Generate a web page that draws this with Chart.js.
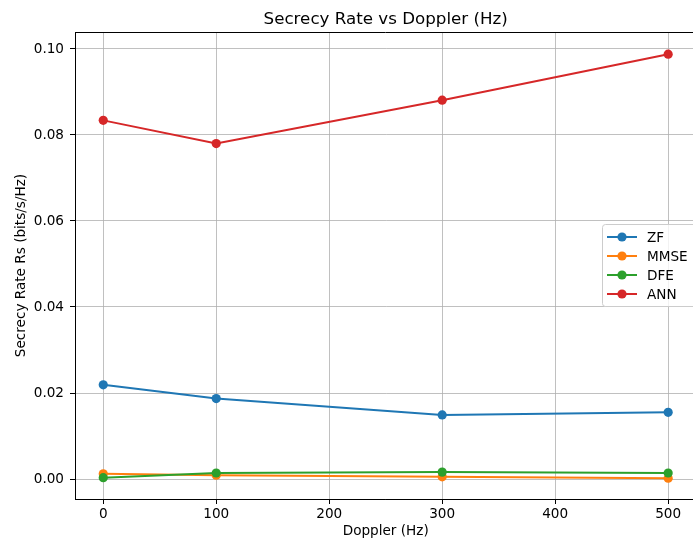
<!DOCTYPE html>
<html>
<head>
<meta charset="utf-8">
<script src="https://cdn.jsdelivr.net/npm/chart.js@4/dist/chart.umd.min.js"></script>
<style>
  html, body { margin: 0; padding: 0; background: #fff; overflow: hidden; }
  #wrap { width: 701px; height: 541px; }
</style>
</head>
<body>
<div id="wrap"><canvas id="c" width="701" height="541"></canvas></div>
<script>
// Doppler shifts (Hz) and secrecy rate per equalizer
const dopplerHz = [0, 100, 300, 500];
const zfRate   = [0.0219, 0.0187, 0.0149, 0.0155];
const mmseRate = [0.0012, 0.0009, 0.0005, 0.0002];
const dfeRate  = [0.0003, 0.0014, 0.0016, 0.0014];
const annRate  = [0.0834, 0.0780, 0.0881, 0.0988];

const seriesNames = ['ZF', 'MMSE', 'DFE', 'ANN'];
const seriesColors = ['#1f77b4', '#ff7f0e', '#2ca02c', '#d62728'];

const xTicks = [0, 100, 200, 300, 400, 500];
const yTicks = [0.00, 0.02, 0.04, 0.06, 0.08, 0.10];

const FONT = 'DejaVu Sans';
const seriesValues = [zfRate, mmseRate, dfeRate, annRate];

const datasets = seriesNames.map((name, i) => ({
  label: name,
  data: dopplerHz.map((x, j) => ({ x: x, y: seriesValues[i][j] })),
  borderColor: seriesColors[i],
  backgroundColor: seriesColors[i],
  pointBackgroundColor: seriesColors[i],
  pointBorderWidth: 0,
  pointRadius: 4.6,
  pointHoverRadius: 4.6,
  borderWidth: 2,
  tension: 0,
  order: seriesNames.length - i   // later series drawn on top
}));

// Title, top/right frame and legend box
const decorations = {
  id: 'decorations',
  afterDraw(chart) {
    const ctx = chart.ctx;
    const a = chart.chartArea;
    ctx.save();
    // frame
    ctx.strokeStyle = '#000';
    ctx.lineWidth = 1;
    ctx.beginPath();
    ctx.moveTo(a.left, a.top + 0.5);
    ctx.lineTo(a.right - 0.5, a.top + 0.5);
    ctx.lineTo(a.right - 0.5, a.bottom);
    ctx.stroke();

    // title
    ctx.fillStyle = '#000';
    ctx.font = '16.7px "' + FONT + '"';
    ctx.textAlign = 'center';
    ctx.textBaseline = 'alphabetic';
    ctx.fillText('Secrecy Rate vs Doppler (Hz)', (a.left + a.right) / 2, 24);

    // legend
    const bx = 602, by = 224, bw = 100, bh = 82;
    ctx.fillStyle = 'rgba(255,255,255,0.8)';
    ctx.strokeStyle = '#cccccc';
    ctx.lineWidth = 1;
    ctx.beginPath();
    ctx.roundRect(bx + 0.5, by + 0.5, bw, bh, 3);
    ctx.fill();
    ctx.stroke();
    ctx.font = '13.6px "' + FONT + '"';
    ctx.textAlign = 'left';
    ctx.textBaseline = 'middle';
    seriesNames.forEach((name, i) => {
      const yy = 237 + i * 19;
      ctx.strokeStyle = seriesColors[i];
      ctx.lineWidth = 2;
      ctx.beginPath();
      ctx.moveTo(607, yy);
      ctx.lineTo(637, yy);
      ctx.stroke();
      ctx.fillStyle = seriesColors[i];
      ctx.beginPath();
      ctx.arc(622, yy, 4.6, 0, Math.PI * 2);
      ctx.fill();
      ctx.fillStyle = '#000';
      ctx.fillText(name, 647, yy + 1);
    });
    ctx.restore();
  }
};

const gridStyle = {
  color: '#b0b0b0',
  lineWidth: 0.8,
  tickLength: 5,
  tickColor: '#000',
  tickWidth: 1
};

new Chart(document.getElementById('c'), {
  type: 'line',
  data: { datasets: datasets },
  plugins: [decorations],
  options: {
    responsive: false,
    animation: false,
    devicePixelRatio: 1,
    layout: { padding: { top: 32, left: 0, right: 0, bottom: 0 } },
    plugins: {
      legend: { display: false },
      title: { display: false },
      tooltip: { enabled: false }
    },
    scales: {
      x: {
        type: 'linear',
        min: -25,
        max: 525,
        afterBuildTicks(s) { s.ticks = xTicks.map(v => ({ value: v })); },
        afterFit(s) { s.height = 42; },
        ticks: {
          color: '#000',
          font: { family: FONT, size: 13.6 },
          padding: 2,
          maxRotation: 0,
          autoSkip: false,
          callback: v => String(v)
        },
        grid: gridStyle,
        border: { color: '#000', width: 1 },
        title: {
          display: true,
          text: 'Doppler (Hz)',
          color: '#000',
          font: { family: FONT, size: 13.6 },
          padding: { top: 13, bottom: 1 }
        }
      },
      y: {
        type: 'linear',
        min: -0.00465,
        max: 0.10395,
        afterBuildTicks(s) { s.ticks = yTicks.map(v => ({ value: v })); },
        afterFit(s) { s.width = 75; },
        ticks: {
          color: '#000',
          font: { family: FONT, size: 13.6 },
          padding: 6,
          autoSkip: false,
          callback: v => v.toFixed(2)
        },
        grid: gridStyle,
        border: { color: '#000', width: 1 },
        title: {
          display: true,
          text: 'Secrecy Rate Rs (bits/s/Hz)',
          color: '#000',
          font: { family: FONT, size: 13.6 },
          padding: { top: 13, bottom: 1 }
        }
      }
    }
  }
});
</script>
</body>
</html>
